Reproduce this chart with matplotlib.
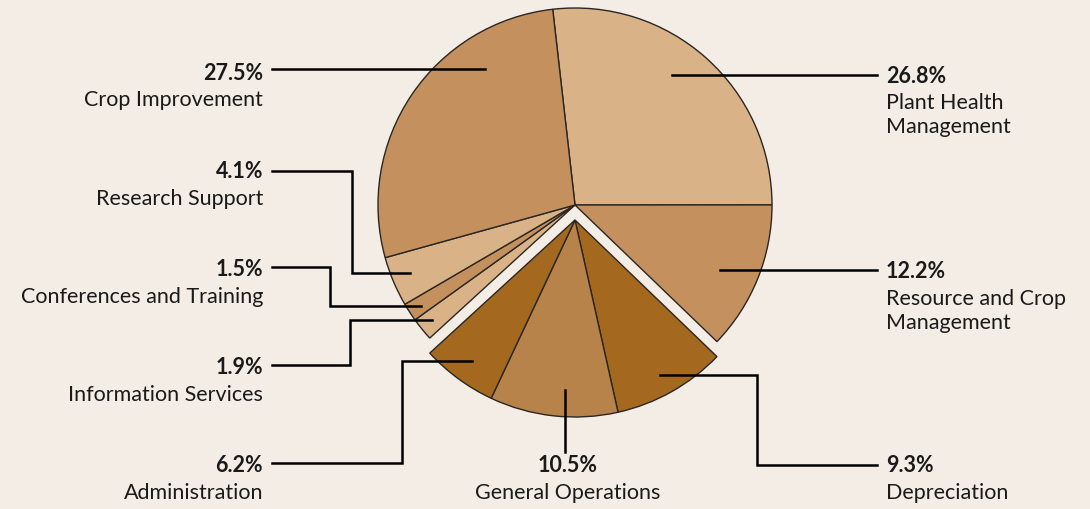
import matplotlib.pyplot as plt

# budget shares, clockwise from the top
categories = ["Plant Health\nManagement", "Resource and Crop\nManagement", "Depreciation",
              "General Operations", "Administration", "Information Services",
              "Conferences and Training", "Research Support", "Crop Improvement"]
shares = [26.8, 12.2, 9.3, 10.5, 6.2, 1.9, 1.5, 4.1, 27.5]
pct_labels = ["26.8%", "12.2%", "9.3%", "10.5%", "6.2%", "1.9%", "1.5%", "4.1%", "27.5%"]
exploded = ["Depreciation", "General Operations", "Administration"]

light = "#D9B287"
mid = "#C4915E"
dark = "#A5681F"
ops = "#B8834A"
colors = [light, mid, dark, ops, dark, light, mid, light, mid]
bg = "#F3EDE6"

fig = plt.figure(figsize=(10.9, 5.09), dpi=100, facecolor=bg)
ax = fig.add_axes([0, 0, 1, 1])
ax.set_facecolor(bg)

cx, cy, r = 575, -205, 197
wedges, _ = ax.pie(shares, colors=colors, startangle=96.5, counterclock=False,
                   center=(cx, cy), radius=r,
                   wedgeprops=dict(edgecolor="#2b2622", linewidth=1.0))
# pull the three operating slices down as one group
for w, name in zip(wedges, categories):
    if name in exploded:
        w.set_center((cx, cy - 15))
        w.set_zorder(3)

ax.set_xlim(0, 1090)
ax.set_ylim(-509, 0)
ax.set_aspect("equal")
ax.axis("off")

# connector paths (pixel layout) and text anchors
layout = {
    "Crop Improvement": ([(485, 69), (272, 69)], (263, 73), "right"),
    "Research Support": ([(410, 273), (352, 273), (352, 171), (272, 171)], (263, 172), "right"),
    "Conferences and Training": ([(421, 306), (330, 306), (330, 267), (272, 267)], (263, 270), "right"),
    "Information Services": ([(432, 320), (350, 320), (350, 365), (272, 365)], (263, 368), "right"),
    "Administration": ([(472, 361), (402, 361), (402, 463), (272, 463)], (263, 466), "right"),
    "General Operations": ([(565, 390), (565, 452)], (568, 466), "center"),
    "Depreciation": ([(660, 375), (757, 375), (757, 465), (877, 465)], (886, 466), "left"),
    "Resource and Crop\nManagement": ([(720, 270), (877, 270)], (886, 272), "left"),
    "Plant Health\nManagement": ([(672, 75), (877, 75)], (886, 76), "left"),
}

font = ["Lato", "DejaVu Sans"]
for name, pct in zip(categories, pct_labels):
    pts, (tx, ty), ha = layout[name]
    ax.plot([p[0] for p in pts], [-p[1] for p in pts], color="black", lw=1.8,
            solid_joinstyle="miter", zorder=4)
    ax.text(tx, -ty, pct, ha=ha, va="center", fontsize=15.5, fontweight="bold",
            family=font, color="#1a1a1a")
    ax.text(tx, -ty - 17, name, ha=ha, va="top", fontsize=15.5, family=font,
            color="#1a1a1a", linespacing=1.25)

fig.savefig("out.png", dpi=100, facecolor=bg)
